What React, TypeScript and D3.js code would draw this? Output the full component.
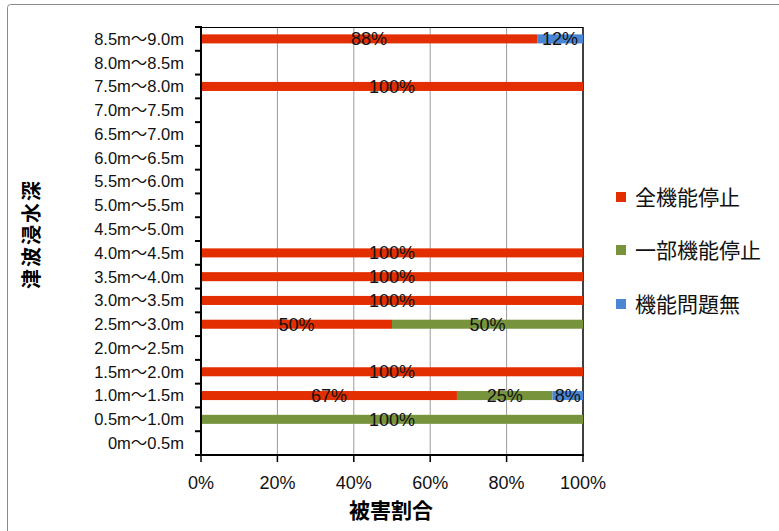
import React from "react";
import * as d3 from "d3";

const categories = [
  "8.5m〜9.0m", "8.0m〜8.5m", "7.5m〜8.0m", "7.0m〜7.5m", "6.5m〜7.0m", "6.0m〜6.5m",
  "5.5m〜6.0m", "5.0m〜5.5m", "4.5m〜5.0m", "4.0m〜4.5m", "3.5m〜4.0m", "3.0m〜3.5m",
  "2.5m〜3.0m", "2.0m〜2.5m", "1.5m〜2.0m", "1.0m〜1.5m", "0.5m〜1.0m", "0m〜0.5m",
];
const fullStop = [88, 0, 100, 0, 0, 0, 0, 0, 0, 100, 100, 100, 50, 0, 100, 67, 0, 0];
const partStop = [0, 0, 0, 0, 0, 0, 0, 0, 0, 0, 0, 0, 50, 0, 0, 25, 100, 0];
const noProblem = [12, 0, 0, 0, 0, 0, 0, 0, 0, 0, 0, 0, 0, 0, 0, 8, 0, 0];
const seriesNames = ["全機能停止", "一部機能停止", "機能問題無"];
const seriesColors = ["#E22E00", "#77933C", "#4A86D4"];
const xTicks = [0, 20, 40, 60, 80, 100];

const FONT = "'Liberation Sans', 'Noto Sans CJK JP', sans-serif";
const CJK = "'Noto Sans CJK JP', sans-serif";

export default function App() {
  const left = 201, right = 583, top = 27, bottom = 455;
  const x = d3.scaleLinear().domain([0, 100]).range([left, right]);
  const y = d3.scaleBand<string>().domain(categories).range([top, bottom]).paddingInner(0.62).paddingOuter(0.31);
  const series = [fullStop, partStop, noProblem];

  const segs: any[] = [];
  categories.forEach((c, i) => {
    let acc = 0;
    series.forEach((s, k) => {
      const v = s[i];
      if (v > 0) {
        segs.push({ c, k, x0: acc, x1: acc + v, v });
      }
      acc += v;
    });
  });

  const boundaries = d3.range(categories.length + 1).map((i) => top + i * ((bottom - top) / categories.length));

  return (
    <svg width={779} height={531} style={{ position: "absolute", left: 0, top: 0, background: "#fff" }}>
      <rect x={7.5} y={4.5} width={900} height={700} fill="#fff" stroke="#8a8a8a" strokeWidth={1} rx={3} />
      {xTicks.slice(1, -1).map((t) => (
        <line key={t} x1={x(t)} x2={x(t)} y1={top} y2={bottom} stroke="#9a9a9a" strokeWidth={1} />
      ))}
      <line x1={left} x2={right} y1={top + 0.5} y2={top + 0.5} stroke="#000" strokeWidth={1} />
      <line x1={right} x2={right} y1={top} y2={bottom} stroke="#000" strokeWidth={1.5} />
      {segs.map((s, i) => (
        <rect key={i} x={x(s.x0)} y={y(s.c)!} width={x(s.x1) - x(s.x0)} height={y.bandwidth()} fill={seriesColors[s.k]} />
      ))}
      {segs.map((s, i) => (
        <text key={"l" + i} x={x((s.x0 + s.x1) / 2)} y={y(s.c)! + y.bandwidth() / 2} dy="0.36em" textAnchor="middle"
          fontFamily={FONT} fontSize={18} fill="#111">{s.v}%</text>
      ))}
      <line x1={left} x2={left} y1={top - 1} y2={bottom + 1} stroke="#000" strokeWidth={2} />
      <line x1={left - 1} x2={right + 1} y1={bottom} y2={bottom} stroke="#000" strokeWidth={2} />
      {boundaries.map((b, i) => (
        <line key={"yt" + i} x1={left - 6} x2={left} y1={b} y2={b} stroke="#000" strokeWidth={2} />
      ))}
      {xTicks.map((t) => (
        <line key={"xt" + t} x1={x(t)} x2={x(t)} y1={bottom} y2={bottom + 7} stroke="#000" strokeWidth={1.5} />
      ))}
      {categories.map((c) => (
        <text key={"yl" + c} x={184} y={y(c)! + y.bandwidth() / 2} dy="0.36em" textAnchor="end"
          fontFamily={FONT} fontSize={16.5} fill="#111">{c}</text>
      ))}
      {xTicks.map((t) => (
        <text key={"xl" + t} x={x(t)} y={483} dy="0.36em" textAnchor="middle" fontFamily={FONT} fontSize={18} fill="#111">{t}%</text>
      ))}
      <text x={391} y={510} dy="0.36em" textAnchor="middle" fontFamily={CJK} fontSize={21} fontWeight="bold" fill="#000">被害割合</text>
      <text transform="translate(32,234) rotate(-90)" dy="0.36em" textAnchor="middle" fontFamily={CJK} fontSize={20} fontWeight="bold" letterSpacing={2} fill="#000">津波浸水深</text>
      {seriesNames.map((n, k) => {
        const cy = [197, 250, 304][k];
        return (
          <g key={n}>
            <rect x={616} y={cy - 5} width={10} height={10} fill={seriesColors[k]} />
            <text x={635} y={cy} dy="0.36em" fontFamily={CJK} fontSize={21} fill="#111">{n}</text>
          </g>
        );
      })}
    </svg>
  );
}
